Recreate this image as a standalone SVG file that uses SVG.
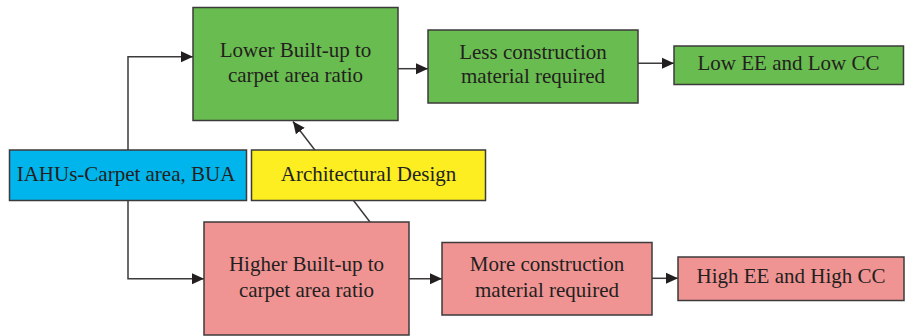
<svg xmlns="http://www.w3.org/2000/svg" width="905" height="336" viewBox="0 0 905 336">
  <defs>
    <marker id="arrow" markerUnits="userSpaceOnUse" markerWidth="12" markerHeight="12" viewBox="0 0 12 12" refX="12" refY="6" orient="auto">
      <path d="M0,0.5 L12,6 L0,11.5 Z" fill="#231f20"/>
    </marker>
  </defs>
  <style>
    .box { stroke: #3d3a3b; stroke-width: 1.5; }
    .green { fill: #69bc4f; }
    .pink { fill: #f09493; }
    .blue { fill: #00b4ec; }
    .yellow { fill: #fcee21; }
    .lbl { font-family: "Liberation Serif", "DejaVu Serif", serif; font-size: 21px; fill: #231f20; text-anchor: middle; }
    .conn { fill: none; stroke: #3d3a3b; stroke-width: 1.5; }
  </style>

  <rect width="905" height="336" fill="#ffffff"/>

  <!-- connectors -->
  <g id="connectors">
    <path class="conn" d="M128,150 V56.7 H193" marker-end="url(#arrow)"/>
    <path class="conn" d="M128,201 V278.7 H204" marker-end="url(#arrow)"/>
    <path class="conn" d="M398,68.7 H428" marker-end="url(#arrow)"/>
    <path class="conn" d="M638,63.3 H674" marker-end="url(#arrow)"/>
    <path class="conn" d="M409,278.7 H442" marker-end="url(#arrow)"/>
    <path class="conn" d="M652,278.3 H678" marker-end="url(#arrow)"/>
    <path class="conn" d="M370,222 L293,121.5" marker-end="url(#arrow)"/>
  </g>

  <!-- nodes -->
  <g id="lower-ratio">
    <rect class="box green" x="193" y="7.5" width="205" height="113"/>
    <text class="lbl" x="295.5" y="57">Lower Built-up to</text>
    <text class="lbl" x="295.5" y="82">carpet area ratio</text>
  </g>
  <g id="less-material">
    <rect class="box green" x="428" y="30" width="210" height="73"/>
    <text class="lbl" x="533" y="59.3">Less construction</text>
    <text class="lbl" x="533" y="83.3">material required</text>
  </g>
  <g id="low-ee-cc">
    <rect class="box green" x="674" y="46" width="229.5" height="38.5"/>
    <text class="lbl" x="788.5" y="70">Low EE and Low CC</text>
  </g>
  <g id="iahus">
    <rect class="box blue" x="9.5" y="150" width="237" height="50.5"/>
    <text class="lbl" x="126" y="180.7">IAHUs-Carpet area, BUA</text>
  </g>
  <g id="architectural-design">
    <rect class="box yellow" x="251.5" y="150" width="234" height="50.5"/>
    <text class="lbl" x="368.5" y="181">Architectural Design</text>
  </g>
  <g id="higher-ratio">
    <rect class="box pink" x="204" y="222" width="205" height="113"/>
    <text class="lbl" x="306.5" y="270.7">Higher Built-up to</text>
    <text class="lbl" x="306.5" y="296.7">carpet area ratio</text>
  </g>
  <g id="more-material">
    <rect class="box pink" x="442" y="242.5" width="210" height="72.5"/>
    <text class="lbl" x="547" y="270.7">More construction</text>
    <text class="lbl" x="547" y="296.7">material required</text>
  </g>
  <g id="high-ee-cc">
    <rect class="box pink" x="678" y="257" width="226" height="43.5"/>
    <text class="lbl" x="791" y="283.3">High EE and High CC</text>
  </g>
</svg>
